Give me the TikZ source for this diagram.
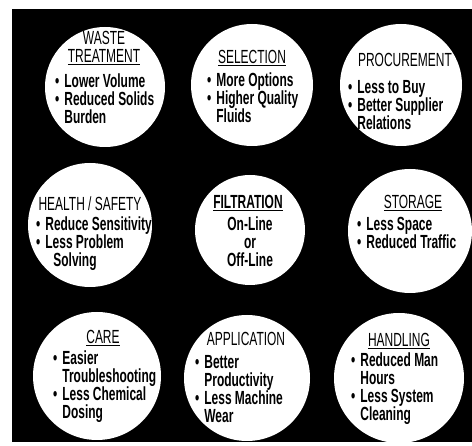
\documentclass[tikz,border=0pt]{standalone}
\usepackage{fontspec}
\setmainfont[FakeStretch=0.63]{Liberation Sans}

\newcommand\bul{\textbullet\hspace{5pt}}
\newcommand\indt{\hphantom{\bul}}
\newcommand\txt[1]{\fontsize{19}{#1}\selectfont}

\begin{document}
\begin{tikzpicture}[
    x=1pt, y=-1pt,
    disc/.style={circle, fill=white, inner sep=0pt, minimum size=#1},
    head/.style={font={\txt{18}}, align=center, inner sep=0pt, anchor=north},
    items/.style={font={\txt{18}\bfseries}, align=left, inner sep=0pt, anchor=north west},
]

% === BLACK PANEL ===
\useasboundingbox (0,0) rectangle (472,446);
\fill[black] (12,9) rectangle (472,442);

% === WHITE DISCS (name/x/y/radius) ===
\foreach \nm/\cx/\cy/\r in {
    waste/105/87/60, select/252/85/61, procure/401/85/61,
    health/90/225/62, filter/250/230/55, store/410/231/62,
    care/97/376/64, apply/247/378/63, handle/399/378/65%
}{
    \node[disc=\r*2pt] (\nm) at (\cx,\cy) {};
}

% === TOP ROW ===
\node[head] (waste-t) at (104,31) {WASTE\\\underline{TREATMENT}};
\node[items] (waste-l) at (55,74)
    {\bul Lower Volume\\\bul Reduced Solids\\\indt Burden};

\node[head] (select-t) at (252,50) {\underline{SELECTION}};
\node[items] (select-l) at (207,73)
    {\bul More Options\\\bul Higher Quality\\\indt Fluids};

\node[head] (procure-t) at (405,53) {PROCUREMENT};
\node[items] (procure-l) at (348,80)
    {\bul Less to Buy\\\bul Better Supplier\\\indt Relations};

% === MIDDLE ROW ===
\node[head] (health-t) at (90,197) {HEALTH / SAFETY};
\node[items] (health-l) at (36,217)
    {\bul Reduce Sensitivity\\\bul Less Problem\\\indt\hspace{8pt}Solving};

\node[head, font={\txt{18}\bfseries}] (filter-t) at (248,195) {\underline{FILTRATION}};
\node[head, font={\txt{18}\bfseries}] (filter-l) at (250,217) {On-Line\\or\\Off-Line};

\node[head] (store-t) at (413,195) {\underline{STORAGE}};
\node[items] (store-l) at (357,217)
    {\bul Less Space\\\bul Reduced Traffic};

% === BOTTOM ROW ===
\node[head] (care-t) at (103,330) {\underline{CARE}};
\node[items] (care-l) at (53,351)
    {\bul Easier\\\indt Troubleshooting\\\bul Less Chemical\\\indt Dosing};

\node[head] (apply-t) at (246,332) {APPLICATION};
\node[items] (apply-l) at (195,355)
    {\bul Better\\\indt Productivity\\\bul Less Machine\\\indt Wear};

\node[head] (handle-t) at (399,333) {\underline{HANDLING}};
\node[items] (handle-l) at (351,353)
    {\bul Reduced Man\\\indt Hours\\\bul Less System\\\indt Cleaning};

\end{tikzpicture}
\end{document}
